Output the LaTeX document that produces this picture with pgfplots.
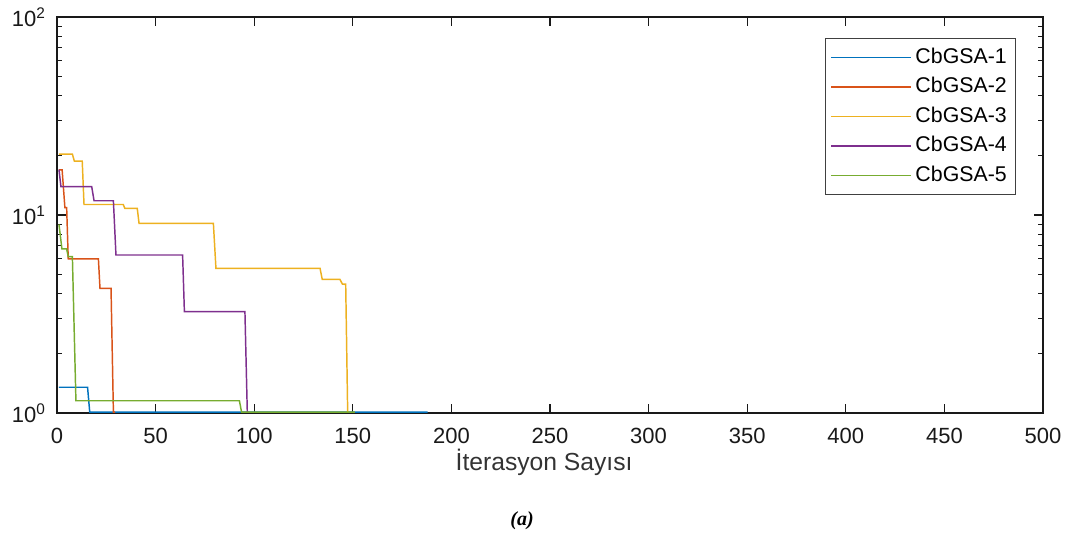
\documentclass[border=0pt]{standalone}
\usepackage{fontspec}
\setmainfont{Liberation Sans}
\newfontfamily\capfont{Liberation Serif}
\usepackage{pgfplots}
\pgfplotsset{compat=1.18}
\definecolor{c1}{rgb}{0,0.447,0.741}
\definecolor{c2}{rgb}{0.85,0.325,0.098}
\definecolor{c3}{rgb}{0.929,0.694,0.125}
\definecolor{c4}{rgb}{0.494,0.184,0.556}
\definecolor{c5}{rgb}{0.466,0.674,0.188}
\begin{document}
\begin{tikzpicture}
\begin{axis}[
  at={(42.75pt,94.5pt)}, anchor=south west,
  scale only axis, width=739.5pt, height=297pt,
  ymode=log, xmin=0, xmax=500, ymin=1, ymax=100,
  xtick={0,50,...,500},
  ytick={1,10,100},
  yticklabels={10\textsuperscript{0},10\textsuperscript{1},10\textsuperscript{2}},
  minor ytick={2,3,4,5,6,7,8,9,20,30,40,50,60,70,80,90},
  tick align=inside,
  major tick length=6.75pt, minor tick length=3.75pt,
  axis line style={line width=0.8pt, black!90},
  every tick/.style={line width=0.8pt, black!90},
  /pgf/number format/assume math mode=true,
  tick label style={font=\fontsize{16.5}{20}\selectfont, text=black!90},
  xticklabel style={yshift=-8pt},
  yticklabel style={xshift=-5pt},
  xlabel={İterasyon Sayısı},
  xlabel style={font=\fontsize{18.5}{22}\selectfont, text=black!80, at={(axis description cs:0.494,-0.145)}, anchor=base},
  legend cell align=left,
  legend image code/.code={\path (-7pt,0pt) -- (53pt,0pt); \draw[#1, line width=1.2pt] (0pt,0pt) -- (53pt,0pt);},
  legend style={at={(0.9726,0.947)}, anchor=north east,
    font=\fontsize{16}{19}\selectfont, draw=black!75, line width=0.8pt,
    inner xsep=3.9pt, inner ysep=7pt, row sep=7.6pt,
    nodes={inner xsep=2.6pt, inner ysep=0pt, text height=11.5pt, text depth=3pt}},
  every axis plot/.append style={line width=1.1pt},
]
\addplot[c1] coordinates {(1,1.349) (15.5,1.349) (16.6,1.01) (188,1.01)};
\addplot[c2] coordinates {(1,16.9) (2.6,16.9) (4,10.9) (4.9,10.9) (5.7,6.0) (21,6.0) (21.8,4.26) (27.4,4.26) (28.6,1.01) (29.5,1.01)};
\addplot[c3] coordinates {(1,20.3) (7.8,20.3) (8.8,18.7) (12.8,18.7) (13.7,11.3) (33.6,11.3) (34.4,10.8) (40.7,10.8) (41.6,9.08) (79.3,9.08) (80.6,5.38) (133.4,5.38) (134.5,4.73) (143.5,4.73) (144.7,4.48) (146.4,4.48) (147.4,1.01) (148,1.01)};
\addplot[c4] coordinates {(1,16.96) (2,13.9) (17.6,13.9) (18.8,11.8) (28.6,11.8) (29.9,6.28) (63.7,6.28) (64.6,3.25) (95.3,3.25) (96.5,1.01) (97,1.01)};
\addplot[c5] coordinates {(1,8.97) (2.5,6.74) (4.9,6.74) (5.7,6.16) (7.8,6.16) (9.6,1.153) (92.5,1.153) (93.6,1.01) (151,1.01)};
\legend{CbGSA-1,CbGSA-2,CbGSA-3,CbGSA-4,CbGSA-5}
\end{axis}
\node[font=\fontsize{15}{18}\selectfont\capfont\bfseries\itshape, anchor=base] at (391.5pt,9.75pt) {(a)};
\pgfresetboundingbox
\useasboundingbox (0,0) rectangle (798.75pt,404.25pt);
\end{tikzpicture}
\end{document}
